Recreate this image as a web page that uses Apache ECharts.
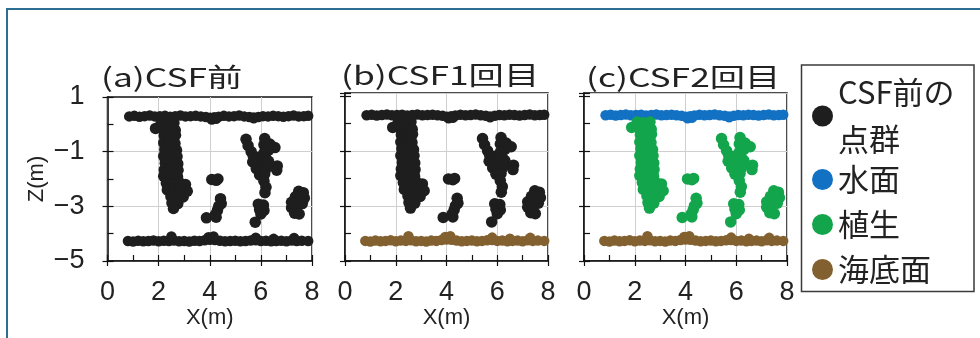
<!DOCTYPE html>
<html>
<head>
<meta charset="utf-8">
<script src="https://cdn.jsdelivr.net/npm/echarts@6/dist/echarts.min.js"></script>
<style>
  html, body { margin: 0; padding: 0; background: #fff; }
  #chart { width: 980px; height: 338px; }
</style>
</head>
<body>
<div id="chart"></div>
<script>
const panelTitles = ["(a)CSF前", "(b)CSF1回目", "(c)CSF2回目"]
const legendNames = ["CSF前の\n点群", "水面", "植生", "海底面"]
const xRange = [0, 8]
const zRange = [-5, 1]
const tickStep = 2
const xName = "X(m)"
const zName = "Z(m)"

// point cloud, [X (m), Z (m)]
const waterSurface = [
  [0.85, 0.29], [1.05, 0.31], [1.25, 0.28], [1.45, 0.3], [1.65, 0.32], [1.85, 0.29],
  [2.05, 0.3], [2.25, 0.31], [2.45, 0.28], [2.65, 0.3], [2.85, 0.32], [3.05, 0.29],
  [3.25, 0.3], [3.45, 0.31], [3.65, 0.29], [3.85, 0.27], [4.02, 0.24], [4.18, 0.26],
  [4.35, 0.28], [4.55, 0.31], [4.75, 0.29], [4.95, 0.3], [5.15, 0.32], [5.35, 0.29],
  [5.55, 0.27], [5.72, 0.25], [5.9, 0.27], [6.08, 0.3], [6.28, 0.29], [6.48, 0.31],
  [6.68, 0.3], [6.88, 0.28], [7.08, 0.3], [7.28, 0.32], [7.48, 0.29], [7.68, 0.3],
  [7.85, 0.31], [4.08, 0.18], [4.25, 0.2], [5.72, 0.22]
]

const vegetation = [
  // column near x = 2.5
  [1.88, -0.15],
  [2.1, 0.05], [2.35, 0.02], [2.6, 0.05],
  [2.18, -0.2], [2.42, -0.18], [2.65, -0.22],
  [2.22, -0.42], [2.46, -0.45], [2.66, -0.4],
  [2.2, -0.68], [2.44, -0.65], [2.64, -0.7],
  [2.24, -0.92], [2.47, -0.9], [2.7, -0.95],
  [2.2, -1.17], [2.45, -1.15], [2.72, -1.18],
  [2.26, -1.42], [2.5, -1.4], [2.75, -1.44],
  [2.22, -1.66], [2.48, -1.65], [2.76, -1.68],
  [2.2, -1.9], [2.36, -1.95], [2.74, -1.92],
  [2.3, -2.15], [2.56, -2.18], [2.8, -2.12], [3.05, -2.2],
  [2.34, -2.4], [2.6, -2.38], [2.85, -2.42], [3.12, -2.45],
  [2.48, -2.64], [2.72, -2.62], [2.96, -2.66],
  [2.52, -2.88], [2.75, -2.9],
  [2.58, -3.08],
  // small patches near x = 4
  [4.08, -2.02], [4.25, -2.05], [4.32, -2.0],
  [4.42, -2.72], [4.45, -2.9], [4.35, -3.0], [4.3, -3.15], [4.22, -3.3], [4.25, -3.4],
  [3.87, -3.42],
  // V shape near x = 6
  [5.42, -0.55], [5.5, -0.78], [5.62, -1.0],
  [6.15, -0.52], [6.12, -0.75], [6.35, -0.72], [6.55, -0.85], [6.3, -0.95],
  [5.7, -1.15], [5.92, -1.2], [6.12, -1.05], [6.2, -1.25],
  [5.68, -1.38], [5.9, -1.42], [6.1, -1.4], [6.3, -1.35],
  [5.82, -1.62], [6.02, -1.65], [6.22, -1.6],
  [5.95, -1.85], [6.15, -1.82],
  [6.12, -2.08], [6.2, -2.3], [6.16, -2.5],
  [6.64, -1.52], [6.62, -1.68],
  // below the V
  [5.9, -2.92], [6.1, -2.95], [5.95, -3.12], [6.12, -3.15], [6.0, -3.28], [5.78, -3.58],
  // right patch near x = 7.4
  [7.48, -2.45], [7.66, -2.5], [7.35, -2.65], [7.55, -2.68], [7.7, -2.7],
  [7.2, -2.85], [7.42, -2.88], [7.62, -2.9], [7.2, -3.05], [7.38, -3.1],
  [7.32, -3.25], [7.5, -3.28]
]

const seabed = [
  [0.8, -4.27], [1.0, -4.29], [1.2, -4.26], [1.4, -4.28], [1.6, -4.27], [1.8, -4.25],
  [2.0, -4.28], [2.2, -4.26], [2.4, -4.27], [2.6, -4.25], [2.8, -4.28], [3.0, -4.27],
  [3.2, -4.29], [3.4, -4.26], [3.6, -4.27], [3.8, -4.24], [4.0, -4.22], [4.2, -4.23],
  [4.4, -4.26], [4.6, -4.28], [4.8, -4.27], [5.0, -4.26], [5.2, -4.28], [5.4, -4.27],
  [5.6, -4.25], [5.8, -4.24], [6.0, -4.27], [6.2, -4.26], [6.4, -4.28], [6.6, -4.27],
  [6.8, -4.26], [7.0, -4.28], [7.2, -4.25], [7.4, -4.27], [7.6, -4.26], [7.85, -4.27],
  [2.5, -4.1], [3.95, -4.13], [4.15, -4.1], [5.8, -4.15], [7.3, -4.16], [6.5, -4.19]
]

const classColors = ["#1e1e1e", "#1271c2", "#13a54b", "#83602f"]

// per panel: which legend class water / vegetation / seabed belong to
const panelClasses = [
  [0, 0, 0],
  [0, 0, 3],
  [1, 2, 3]
]

const grids = [
  { left: 107.5, top: 97, width: 204.5, height: 164 },
  { left: 345, top: 93, width: 203, height: 168 },
  { left: 584, top: 93, width: 203, height: 168 }
]
const zMax = [1, 1.1, 1.1]
const titlePos = [[101, 77], [341, 75], [586, 77]]
const layerSizes = [10.5, 11.5, 10.5]

const numFont = "'Liberation Sans Narrow', 'Liberation Sans', Arial, sans-serif"
const jpFont = "'Noto Sans CJK JP', sans-serif"
const ink = "#111"
const tickLine = { color: ink, width: 1.2 }

const chart = echarts.init(document.getElementById("chart"))

const xAxes = []
const yAxes = []
const series = []

grids.forEach((g, i) => {
  const first = i === 0
  xAxes.push({
    gridIndex: i, type: "value", position: "bottom",
    min: xRange[0], max: xRange[1], interval: tickStep,
    name: xName, nameLocation: "middle", nameGap: 42,
    nameTextStyle: { fontSize: 22, fontFamily: numFont, color: "#222" },
    axisLine: { onZero: false, lineStyle: { color: ink, width: 1.5 } },
    axisTick: { inside: true, length: 6, lineStyle: tickLine },
    minorTick: { show: true, splitNumber: 2, length: 6, lineStyle: tickLine },
    splitLine: { show: true, lineStyle: { color: "#cfcfcf", width: 1 } },
    axisLabel: { fontSize: 27, fontFamily: numFont, color: "#222", margin: 18 }
  })
  // outward half of the major ticks
  xAxes.push({
    gridIndex: i, type: "value", position: "bottom",
    min: xRange[0], max: xRange[1], interval: tickStep,
    axisLine: { show: false, onZero: false },
    axisTick: { inside: false, length: 5, lineStyle: tickLine },
    axisLabel: { show: false },
    splitLine: { show: false }
  })
  yAxes.push({
    gridIndex: i, type: "value", position: "left",
    min: zRange[0], max: zMax[i], interval: tickStep,
    name: first ? zName : "", nameLocation: "middle", nameGap: 60,
    nameTextStyle: { fontSize: 22, fontFamily: numFont, color: "#222" },
    axisLine: { onZero: false, lineStyle: { color: ink, width: 1.5 } },
    axisTick: { inside: true, length: 6, lineStyle: tickLine },
    minorTick: { show: true, splitNumber: 2, length: 6, lineStyle: tickLine },
    splitLine: {
      show: true,
      lineStyle: { color: ["#cfcfcf", "#cfcfcf", "#cfcfcf", "rgba(0,0,0,0)"], width: 1 }
    },
    axisLabel: {
      show: first, fontSize: 27, fontFamily: numFont, color: "#222", margin: 23,
      formatter: (v) => String(v).replace("-", "\u2212")
    }
  })
  yAxes.push({
    gridIndex: i, type: "value", position: "left",
    min: zRange[0], max: zMax[i], interval: tickStep,
    axisLine: { show: false, onZero: false },
    axisTick: { inside: false, length: 5, lineStyle: tickLine },
    axisLabel: { show: false },
    splitLine: { show: false }
  })

  const layers = [waterSurface, vegetation, seabed]
  layers.forEach((pts, k) => {
    const cls = panelClasses[i][k]
    series.push({
      type: "scatter",
      name: legendNames[cls],
      xAxisIndex: 2 * i,
      yAxisIndex: 2 * i,
      data: pts,
      symbolSize: layerSizes[k],
      itemStyle: { color: classColors[cls], opacity: 1 },
      silent: true
    })
  })
})

const option = {
  backgroundColor: "#fff",
  animation: false,
  grid: grids.map((g) => ({
    ...g, show: true, borderColor: ink, borderWidth: 1.5, backgroundColor: "transparent"
  })),
  xAxis: xAxes,
  yAxis: yAxes,
  legend: [
    {
      data: [{ name: legendNames[0] }],
      orient: "vertical", left: 807, top: 64,
      icon: "circle", itemWidth: 21, itemHeight: 21, itemGap: 0,
      selectedMode: false,
      textStyle: { fontSize: 31, fontFamily: jpFont, color: "#222", lineHeight: 47 }
    },
    {
      data: legendNames.slice(1),
      orient: "vertical", left: 807, top: 159,
      icon: "circle", itemWidth: 21, itemHeight: 21, itemGap: 14,
      selectedMode: false,
      textStyle: { fontSize: 31, fontFamily: jpFont, color: "#222", lineHeight: 30 }
    }
  ],
  graphic: [
    {
      type: "rect", silent: true,
      shape: { x: 7, y: 9, width: 1200, height: 600 },
      style: { fill: "none", stroke: "#2c6e92", lineWidth: 2 }
    },
    {
      type: "rect", silent: true,
      shape: { x: 801.5, y: 65, width: 172.5, height: 226.5 },
      style: { fill: "none", stroke: "#3a3a3a", lineWidth: 1.5 }
    },
    ...panelTitles.map((t, i) => ({
      type: "text", silent: true,
      x: titlePos[i][0], y: titlePos[i][1], scaleX: 1.36,
      style: {
        text: t, fontSize: 26, fontFamily: jpFont, fill: "#222",
        verticalAlign: "middle"
      }
    }))
  ],
  series
}

chart.setOption(option)
</script>
</body>
</html>
